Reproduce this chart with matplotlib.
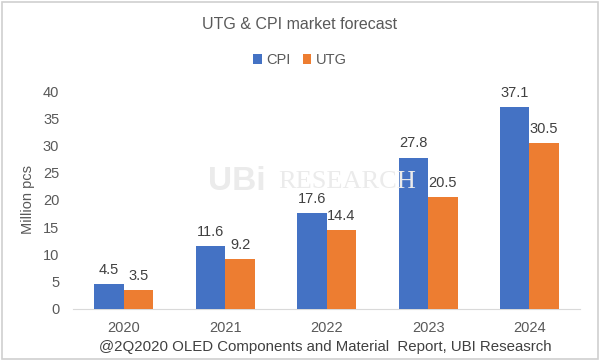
import matplotlib.pyplot as plt
import numpy as np
from matplotlib.patches import Rectangle

years = ['2020', '2021', '2022', '2023', '2024']
cpi = [4.5, 11.6, 17.6, 27.8, 37.1]
utg = [3.5, 9.2, 14.4, 20.5, 30.5]

plt.rcParams['font.family'] = ['Liberation Sans', 'DejaVu Sans']
text_col = '#595959'

fig = plt.figure(figsize=(6, 3.6), dpi=100)
ax = fig.add_axes([0.122, 0.142, 0.845, 0.605])

# faint watermark behind everything
fig.text(0.395, 0.495, 'UBi', fontsize=24, color='#EBEBEB', ha='center',
         va='center', fontweight='bold', zorder=0)
fig.text(0.578, 0.495, 'RESEARCH', fontsize=19, color='#EBEBEB', ha='center',
         va='center', family='Liberation Serif', zorder=0)

x = np.arange(len(years))
w = 0.29
b1 = ax.bar(x - w / 2, cpi, w, color='#4472C4', label='CPI', zorder=3)
b2 = ax.bar(x + w / 2, utg, w, color='#ED7D31', label='UTG', zorder=3)

for bars, vals in ((b1, cpi), (b2, utg)):
    for r, v in zip(bars, vals):
        ax.text(r.get_x() + r.get_width() / 2, v + 1.3, f'{v:.1f}',
                ha='center', va='bottom', fontsize=10.5, color='#404040')

ax.set_facecolor('none')
ax.set_xlim(-0.5, 4.5)
ax.set_ylim(0, 40)
ax.set_yticks(range(0, 41, 5))
ax.set_xticks(x)
ax.set_xticklabels(years)
ax.tick_params(axis='both', length=0, labelsize=10.5, colors=text_col)
ax.tick_params(axis='y', pad=10)
ax.tick_params(axis='x', pad=9)
for s in ['top', 'right', 'left']:
    ax.spines[s].set_visible(False)
ax.spines['bottom'].set_color('#D9D9D9')
ax.set_ylabel('Million pcs', fontsize=10.5, color=text_col, labelpad=6)

fig.text(0.5, 0.933, 'UTG & CPI market forecast', ha='center', va='center',
         fontsize=11.5, color=text_col)
fig.legend(handles=[b1, b2], loc='center', bbox_to_anchor=(0.5, 0.833),
           ncol=2, frameon=False, fontsize=10.5, labelcolor=text_col,
           handlelength=0.6, handleheight=0.6, handletextpad=0.3,
           columnspacing=0.8)
fig.text(0.543, 0.035, '@2Q2020 OLED Components and Material  Report, UBI Reseasrch',
         ha='center', va='center', fontsize=10.8, color='#404040')

fig.patches.append(Rectangle((0.003, 0.004), 0.994, 0.99, transform=fig.transFigure,
                             fill=False, edgecolor='#D0D0D0', linewidth=1.2))

fig.savefig('out.png', dpi=100)
